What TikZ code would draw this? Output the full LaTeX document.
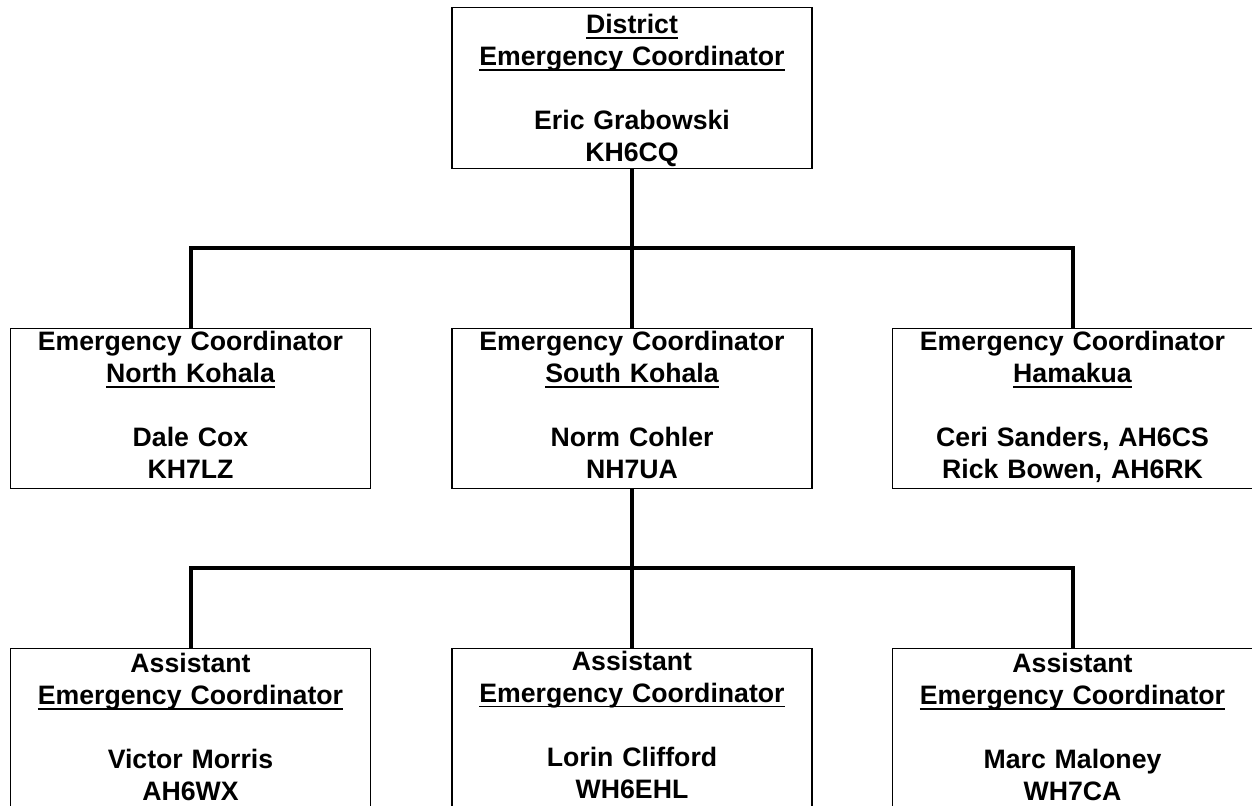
\documentclass[tikz,border=0pt]{standalone}
\usepackage{fontspec}
\setmainfont{Liberation Sans}

\newcommand{\ulined}[1]{\leavevmode\setbox0\hbox{#1}\rlap{\rule[-4pt]{\wd0}{1.4pt}}\box0}
\newcommand{\upstrut}[1]{\leavevmode\rule{0pt}{#1}}
\newcommand{\downstrut}[1]{\rule[-#1]{0pt}{#1}}

\begin{document}
\begin{tikzpicture}[x=0.75pt,y=-0.75pt,
  box/.style={draw,line width=1.1pt,anchor=north,text width=270pt,
    inner xsep=0pt,inner ysep=0pt,align=center,
    font=\fontsize{20}{24}\selectfont\bfseries},
  link/.style={line width=3pt}]
  \useasboundingbox (0,0) rectangle (1252,806);

  % district level
  \node[box] (district) at (632,7)
    {\upstrut{19.5pt}\ulined{District}\\ \ulined{Emergency Coordinator}\\[24pt]
     Eric Grabowski\\ KH6CQ\downstrut{5.25pt}};

  % emergency coordinators
  \node[box] (nkohala) at (190.5,328)
    {\upstrut{16.5pt}Emergency Coordinator\\ \ulined{North Kohala}\\[24pt]
     Dale Cox\\ KH7LZ\downstrut{7.5pt}};
  \node[box] (skohala) at (632,328)
    {\upstrut{16.5pt}Emergency Coordinator\\ \ulined{South Kohala}\\[24pt]
     Norm Cohler\\ NH7UA\downstrut{7.5pt}};
  \node[box] (hamakua) at (1072.5,328)
    {\upstrut{16.5pt}Emergency Coordinator\\ \ulined{Hamakua}\\[24pt]
     Ceri Sanders, AH6CS\\ Rick Bowen, AH6RK\downstrut{7.5pt}};

  % assistants
  \node[box] (asstone) at (190.5,648)
    {\upstrut{18pt}Assistant\\ \ulined{Emergency Coordinator}\\[24pt]
     Victor Morris\\ AH6WX\downstrut{17pt}};
  \node[box] (assttwo) at (632,648)
    {\upstrut{16pt}Assistant\\ \ulined{Emergency Coordinator}\\[24pt]
     Lorin Clifford\\ WH6EHL\downstrut{19pt}};
  \node[box] (asstthree) at (1072.5,648)
    {\upstrut{18pt}Assistant\\ \ulined{Emergency Coordinator}\\[24pt]
     Marc Maloney\\ WH7CA\downstrut{17pt}};

  % connectors
  \coordinate (upperbus) at (632,248);
  \coordinate (lowerbus) at (632,568);
  \draw[link] (district.south) -- (skohala.north);
  \draw[link] (nkohala.north) |- (upperbus) -| (hamakua.north);
  \draw[link] (skohala.south) -- (assttwo.north);
  \draw[link] (asstone.north) |- (lowerbus) -| (asstthree.north);
\end{tikzpicture}
\end{document}
